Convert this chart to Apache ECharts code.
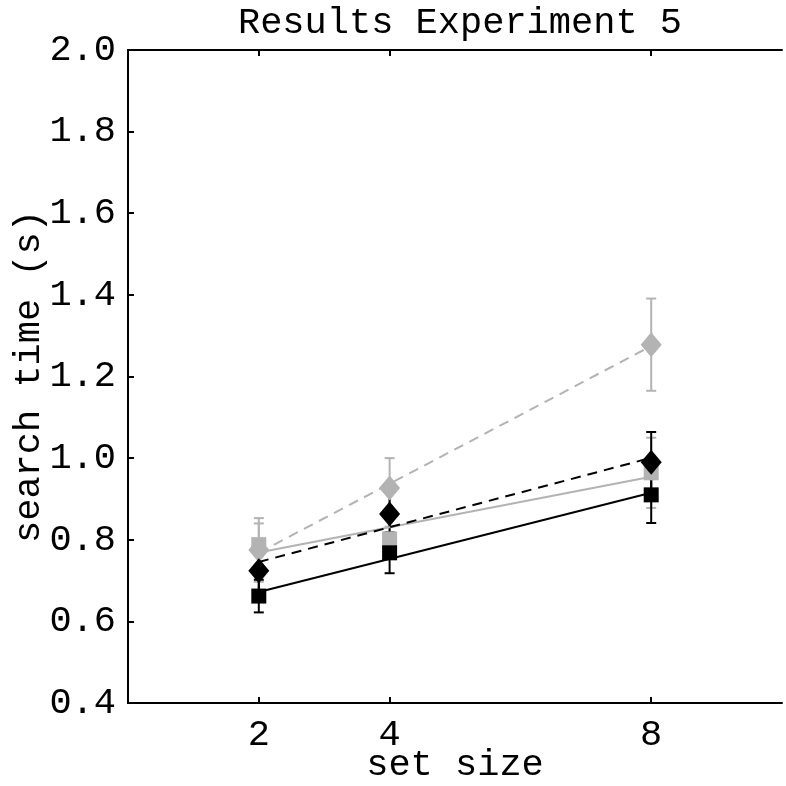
<!DOCTYPE html>
<html><head><meta charset="utf-8">
<script src="https://cdn.jsdelivr.net/npm/echarts@6/dist/echarts.min.js"></script>
<style>html,body{margin:0;padding:0;background:#fff}#c{width:786px;height:786px}</style>
</head><body><div id="c"></div>
<script>
const setSizes = [2, 4, 8];
const xTicks = [2, 4, 8];
const yTicks = [0.4, 0.6, 0.8, 1.0, 1.2, 1.4, 1.6, 1.8, 2.0];
const blackSquare = [0.662, 0.768, 0.910];
const blackSquareErr = [0.040, 0.050, 0.069];
const blackDiamond = [0.724, 0.863, 0.990];
const blackDiamondErr = [0.050, 0.064, 0.074];
const graySquare = [0.788, 0.802, 0.964];
const graySquareErr = [0.052, 0.030, 0.086];
const grayDiamond = [0.775, 0.927, 1.278];
const grayDiamondErr = [0.078, 0.073, 0.113];

const FONT = "'Courier New', Courier, 'Liberation Mono', monospace";
const GRAY = '#b3b3b3';

function fit(xs, ys) {
  const n = xs.length;
  const mx = xs.reduce((a, b) => a + b, 0) / n;
  const my = ys.reduce((a, b) => a + b, 0) / n;
  let sxy = 0, sxx = 0;
  for (let i = 0; i < n; i++) { sxy += (xs[i] - mx) * (ys[i] - my); sxx += (xs[i] - mx) ** 2; }
  const b = sxy / sxx, a = my - b * mx;
  const x0 = Math.min(...xs), x1 = Math.max(...xs);
  return [[x0, a + b * x0], [x1, a + b * x1]];
}
function pts(ys) { return setSizes.map((x, i) => [x, ys[i]]); }
function errData(ys, es) { return setSizes.map((x, i) => [x, ys[i] - es[i], ys[i] + es[i]]); }

function errSeries(ys, es, color) {
  return {
    type: 'custom', data: errData(ys, es),
    encode: { x: 0, y: [1, 2] },
    renderItem: function (params, api) {
      const x = api.value(0);
      const lo = api.coord([x, api.value(1)]);
      const hi = api.coord([x, api.value(2)]);
      const w = 5;
      const st = { stroke: color, lineWidth: 2 };
      return { type: 'group', children: [
        { type: 'line', shape: { x1: lo[0], y1: lo[1], x2: hi[0], y2: hi[1] }, style: st },
        { type: 'line', shape: { x1: lo[0] - w, y1: lo[1], x2: lo[0] + w, y2: lo[1] }, style: st },
        { type: 'line', shape: { x1: hi[0] - w, y1: hi[1], x2: hi[0] + w, y2: hi[1] }, style: st }
      ]};
    }
  };
}
function lineSeries(ys, color, type) {
  return { type: 'line', data: fit(setSizes, ys), symbol: 'none', silent: true,
    lineStyle: { color: color, width: 2, type: type } };
}
function markSeries(ys, color, symbol, size) {
  return { type: 'scatter', data: pts(ys), symbol: symbol, symbolSize: size,
    itemStyle: { color: color, opacity: 1 } };
}

const chart = echarts.init(document.getElementById('c'), null, { renderer: 'canvas' });
const axisLine = { show: true, lineStyle: { color: '#000', width: 2 } };
chart.setOption({
  animation: false,
  backgroundColor: '#fff',
  title: { text: 'Results Experiment 5', left: 455, top: 0, textAlign: 'center',
    textStyle: { fontFamily: FONT, fontWeight: 'normal', fontSize: 37, color: '#000' } },
  grid: { left: 128, top: 50, width: 654, height: 653, containLabel: false, outerBoundsMode: 'none' },
  xAxis: [
    { type: 'value', min: 0, max: 10, interval: 2, position: 'bottom',
      name: 'set size', nameLocation: 'middle', nameGap: 44, nameMoveOverlap: false,
      nameTextStyle: { fontFamily: FONT, fontSize: 37, color: '#000', verticalAlign: 'top' },
      axisLine: axisLine,
      axisTick: { show: true, inside: true, length: 6, customValues: xTicks, lineStyle: { color: '#000', width: 2 } },
      axisLabel: { show: true, customValues: xTicks, margin: 14, fontFamily: FONT, fontSize: 37, color: '#000' },
      splitLine: { show: false } },
    { type: 'value', min: 0, max: 10, interval: 2, position: 'top',
      axisLine: axisLine,
      axisTick: { show: true, inside: true, length: 6, customValues: xTicks, lineStyle: { color: '#000', width: 2 } },
      axisLabel: { show: false }, splitLine: { show: false } }
  ],
  yAxis: [
    { type: 'value', min: 0.4, max: 2.0, interval: 0.2, position: 'left',
      name: 'search time (s)', nameLocation: 'middle', nameGap: 80, nameRotate: 90, nameMoveOverlap: false,
      nameTextStyle: { fontFamily: FONT, fontSize: 37, color: '#000' },
      axisLine: axisLine,
      axisTick: { show: true, inside: true, length: 6, lineStyle: { color: '#000', width: 2 } },
      axisLabel: { margin: 12, fontFamily: FONT, fontSize: 37, color: '#000',
        formatter: v => v.toFixed(1) },
      splitLine: { show: false } },
    { type: 'value', min: 0.4, max: 2.0, interval: 0.2, position: 'right',
      axisLine: axisLine, axisTick: { show: false }, axisLabel: { show: false }, splitLine: { show: false } }
  ],
  series: [
    lineSeries(graySquare, GRAY, 'solid'),
    lineSeries(grayDiamond, GRAY, [10, 7]),
    errSeries(graySquare, graySquareErr, GRAY),
    markSeries(graySquare, GRAY, 'rect', 15),
    errSeries(grayDiamond, grayDiamondErr, GRAY),
    markSeries(grayDiamond, GRAY, 'diamond', [21, 25]),
    lineSeries(blackSquare, '#000', 'solid'),
    lineSeries(blackDiamond, '#000', [10, 7]),
    errSeries(blackSquare, blackSquareErr, '#000'),
    errSeries(blackDiamond, blackDiamondErr, '#000'),
    markSeries(blackDiamond, '#000', 'diamond', [21, 25]),
    markSeries(blackSquare, '#000', 'rect', 15)
  ]
});
</script></body></html>
